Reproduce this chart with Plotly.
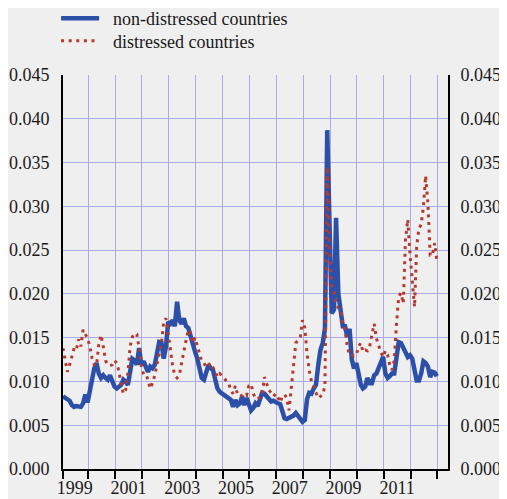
import pandas as pd
import plotly.graph_objects as go

# Monthly observations, Jan 1999 .. Dec 2012
months = pd.date_range("1999-01-01", periods=168, freq="MS") + pd.Timedelta(days=23)

non_distressed = [
    0.0083, 0.0081, 0.0079, 0.0078, 0.0073, 0.0071, 0.0072, 0.0072, 0.0071, 0.0075, 0.0085, 0.0076,
    0.0090, 0.0107, 0.0115, 0.0121, 0.0109, 0.0104, 0.0107, 0.0104, 0.0102, 0.0107, 0.0100, 0.0094,
    0.0092, 0.0094, 0.0096, 0.0102, 0.0100, 0.0096, 0.0113, 0.0126, 0.0124, 0.0119, 0.0138, 0.0119,
    0.0123, 0.0115, 0.0111, 0.0117, 0.0115, 0.0119, 0.0136, 0.0145, 0.0144, 0.0126, 0.0140, 0.0168,
    0.0166, 0.0170, 0.0163, 0.0191, 0.0170, 0.0166, 0.0172, 0.0163, 0.0161, 0.0151, 0.0142, 0.0134,
    0.0126, 0.0117, 0.0104, 0.0102, 0.0113, 0.0119, 0.0115, 0.0113, 0.0102, 0.0092, 0.0088, 0.0086,
    0.0085, 0.0083, 0.0081, 0.0079, 0.0071, 0.0079, 0.0073, 0.0075, 0.0083, 0.0073, 0.0081, 0.0075,
    0.0067, 0.0070, 0.0075, 0.0072, 0.0080, 0.0087, 0.0086, 0.0083, 0.0080, 0.0077, 0.0078, 0.0076,
    0.0075, 0.0074, 0.0065, 0.0058, 0.0057, 0.0058, 0.0060, 0.0061, 0.0064, 0.0061, 0.0056, 0.0054,
    0.0056, 0.0080, 0.0087, 0.0086, 0.0092, 0.0096, 0.0118, 0.0136, 0.0144, 0.0160, 0.0387, 0.0296,
    0.0178, 0.0182, 0.0287, 0.0200, 0.0180, 0.0163, 0.0163, 0.0151, 0.0160, 0.0125, 0.0115, 0.0121,
    0.0109, 0.0096, 0.0092, 0.0094, 0.0104, 0.0098, 0.0098, 0.0107, 0.0109, 0.0115, 0.0124, 0.0128,
    0.0109, 0.0104, 0.0106, 0.0109, 0.0109, 0.0126, 0.0145, 0.0144, 0.0138, 0.0134, 0.0128, 0.0130,
    0.0126, 0.0113, 0.0101, 0.0101, 0.0109, 0.0123, 0.0121, 0.0117, 0.0105, 0.0111, 0.0110, 0.0106,
]

distressed = [
    0.0138, 0.0124, 0.0111, 0.0119, 0.0130, 0.0138, 0.0136, 0.0148, 0.0140, 0.0159, 0.0154, 0.0149,
    0.0140, 0.0126, 0.0119, 0.0118, 0.0142, 0.0153, 0.0140, 0.0124, 0.0119, 0.0118, 0.0119, 0.0124,
    0.0121, 0.0111, 0.0096, 0.0086, 0.0090, 0.0109, 0.0140, 0.0151, 0.0155, 0.0154, 0.0138, 0.0117,
    0.0108, 0.0108, 0.0102, 0.0092, 0.0098, 0.0107, 0.0119, 0.0132, 0.0144, 0.0168, 0.0172, 0.0155,
    0.0134, 0.0117, 0.0107, 0.0104, 0.0107, 0.0123, 0.0134, 0.0147, 0.0159, 0.0156, 0.0144, 0.0150,
    0.0140, 0.0130, 0.0123, 0.0121, 0.0116, 0.0119, 0.0121, 0.0116, 0.0111, 0.0105, 0.0109, 0.0107,
    0.0104, 0.0100, 0.0098, 0.0090, 0.0086, 0.0095, 0.0085, 0.0083, 0.0084, 0.0086, 0.0084, 0.0095,
    0.0097, 0.0086, 0.0081, 0.0080, 0.0082, 0.0084, 0.0105, 0.0096, 0.0090, 0.0087, 0.0083, 0.0086,
    0.0082, 0.0076, 0.0083, 0.0085, 0.0081, 0.0067, 0.0094, 0.0121, 0.0144, 0.0147, 0.0151, 0.0170,
    0.0161, 0.0132, 0.0113, 0.0100, 0.0094, 0.0086, 0.0081, 0.0083, 0.0085, 0.0095, 0.0345, 0.0258,
    0.0208, 0.0203, 0.0189, 0.0184, 0.0182, 0.0166, 0.0159, 0.0140, 0.0130, 0.0130, 0.0129, 0.0130,
    0.0140, 0.0144, 0.0134, 0.0136, 0.0135, 0.0140, 0.0155, 0.0166, 0.0149, 0.0140, 0.0133, 0.0128,
    0.0135, 0.0130, 0.0119, 0.0113, 0.0124, 0.0166, 0.0197, 0.0201, 0.0189, 0.0262, 0.0285, 0.0246,
    0.0216, 0.0185, 0.0254, 0.0275, 0.0279, 0.0300, 0.0335, 0.0303, 0.0244, 0.0244, 0.0258, 0.0237,
]

X_RANGE = ["1999-01-24", "2013-05-24"]
year_ticks = [X_RANGE[0]] + [f"{y}-01-01" for y in range(2000, 2014)]
label_years = ["1999", "2001", "2003", "2005", "2007", "2009", "2011"]
label_pos = [f"{y}-07-02" for y in label_years]
y_ticks = [0.0, 0.005, 0.01, 0.015, 0.02, 0.025, 0.03, 0.035, 0.04, 0.045]

Y_RANGE = [0, 0.045]
BG = "#EFEFEF"
GRID = "#A9ABE6"
FONT = "'Liberation Serif', 'Times New Roman', Times, serif"
PAD = "\u00a0\u00a0"

fig = go.Figure()
fig.add_trace(go.Scatter(
    x=months, y=non_distressed, name=PAD + "non-distressed countries",
    mode="lines", line=dict(color="#2C4FA8", width=4.5),
    xaxis="x", yaxis="y", legend="legend",
))
fig.add_trace(go.Scatter(
    x=months, y=distressed, name=PAD + "distressed countries",
    mode="lines", line=dict(color="#B53A2D", width=3, dash="3px,4.6px"),
    xaxis="x2", yaxis="y2", legend="legend2",
))

legend_common = dict(
    xanchor="left", yanchor="middle", bgcolor="rgba(0,0,0,0)",
    font=dict(family=FONT, size=18, color="#1a1a1a"), itemwidth=38,
)

fig.update_layout(
    width=499, height=491,
    margin=dict(l=55, r=59, t=67, b=30, autoexpand=False),
    paper_bgcolor=BG, plot_bgcolor=BG,
    font=dict(family=FONT, size=18, color="#1a1a1a"),
    showlegend=True,
    legend=dict(x=-0.018, y=1.1434, **legend_common),
    legend2=dict(x=-0.018, y=1.0863, **legend_common),
    xaxis=dict(
        type="date", range=X_RANGE, tickmode="array", tickvals=year_ticks,
        showticklabels=False, ticks="outside", ticklen=8, tickwidth=2, tickcolor="black",
        showgrid=True, gridcolor=GRID, gridwidth=1,
        showline=True, linecolor="black", linewidth=2, zeroline=False,
    ),
    xaxis2=dict(
        type="date", range=X_RANGE, overlaying="x", side="bottom", anchor="y",
        tickmode="array", tickvals=label_pos, ticktext=label_years,
        ticks="outside", ticklen=2, tickcolor="rgba(0,0,0,0)",
        showgrid=False, showline=False, zeroline=False,
        tickfont=dict(family=FONT, size=18),
    ),
    yaxis=dict(
        range=Y_RANGE, tickmode="array", tickvals=y_ticks, tickformat=".3f",
        ticks="outside", ticklen=8, tickcolor="rgba(0,0,0,0)",
        showgrid=True, gridcolor=GRID, gridwidth=1,
        showline=True, linecolor="black", linewidth=2, zeroline=False,
    ),
    yaxis2=dict(
        range=Y_RANGE, overlaying="y", side="right", anchor="x",
        tickmode="array", tickvals=y_ticks, tickformat=".3f",
        ticks="outside", ticklen=7, tickcolor="rgba(0,0,0,0)",
        showgrid=False, showline=True, linecolor="black", linewidth=2, zeroline=False,
    ),
)

fig.write_html("out.html")
